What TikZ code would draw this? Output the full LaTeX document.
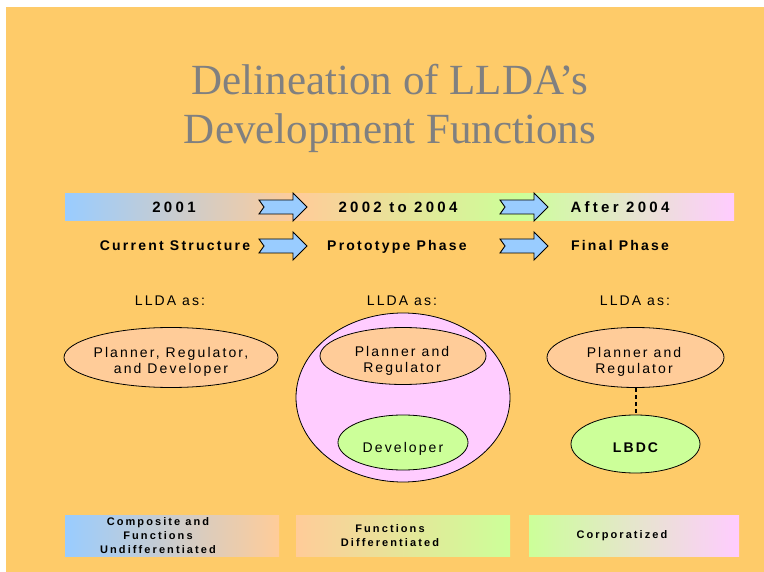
\documentclass[tikz,border=0pt]{standalone}
\usepackage{fontspec}
\setmainfont{Liberation Sans}
\newfontfamily\titlefont{Liberation Serif}
\newfontfamily\headfont[LetterSpace=22]{Liberation Sans}
\newfontfamily\phasefont[LetterSpace=16]{Liberation Sans}
\newfontfamily\rolefont[LetterSpace=15]{Liberation Sans}
\newfontfamily\boxfont[LetterSpace=19]{Liberation Sans}
\usetikzlibrary{shapes.geometric}

\definecolor{bgorange}{HTML}{FECB69}
\definecolor{skyblue}{HTML}{99CCFF}
\definecolor{peach}{HTML}{FFCC99}
\definecolor{palegreen}{HTML}{CCFF99}
\definecolor{palepink}{HTML}{FFCCFF}
\definecolor{titlegray}{HTML}{808080}

\begin{document}
\begin{tikzpicture}[x=1pt, y=-1pt]

\def\barl{65}
\def\barr{734}
\def\bart{194}
\def\barb{221}
\def\rowa{213}
\def\rowb{251}
\def\boxt{515}
\def\boxb{556}

\tikzset{notcharrow/.pic = {\draw[fill=skyblue, line width=0.9pt, line join=miter]
                              (0,-7) -- (34,-7) -- (34,-14) -- (48,0) -- (34,14)
                              -- (34,7) -- (0,7) -- (5,0) -- cycle;}
        }

\tikzset{head/.style     = {font=\headfont\bfseries\fontsize{15}{17}\selectfont, anchor=base},
         phase/.style    = {font=\phasefont\bfseries\fontsize{14}{16}\selectfont, anchor=base},
         role/.style     = {font=\rolefont\fontsize{14}{16}\selectfont, align=center},
         title/.style    = {text=titlegray, font=\titlefont\fontsize{43}{50}\selectfont, anchor=base},
         blob/.style     = {ellipse, draw, line width=0.8pt, inner sep=0pt},
         boxtext/.style  = {font=\boxfont\bfseries\fontsize{11}{13.7}\selectfont, align=center}}

\useasboundingbox (0,0) rectangle (764,572);
\fill[white] (0,0) rectangle (764,572);
\fill[bgorange] (6,7) rectangle (764,572);

% title
\node[title] (title1) at (390,95) {Delineation of LLDA’s};
\node[title] (title2) at (390,144) {Development Functions};

% time bar
\shade[left color=skyblue,   right color=peach]     (\barl,\bart) rectangle (298,\barb);
\shade[left color=peach,     right color=palegreen] (298,\bart) rectangle (520,\barb);
\shade[left color=palegreen, right color=palepink]  (520,\bart) rectangle (\barr,\barb);

\node[head] (y2001) at (174,\rowa) {2001};
\node[head] (y2002) at (398,\rowa) {2002 to 2004};
\node[head] (y2004) at (620,\rowa) {After 2004};

\node[phase] (current) at (175,\rowb) {Current Structure};
\node[phase] (proto)   at (397,\rowb) {Prototype Phase};
\node[phase] (final)   at (620,\rowb) {Final Phase};

\path (259,207) pic{notcharrow};
\path (500,207) pic{notcharrow};
\path (259,246) pic{notcharrow};
\path (500,246) pic{notcharrow};

% LLDA roles
\node[role, anchor=base] (asa) at (170,306) {LLDA as:};
\node[role, anchor=base] (asb) at (402,306) {LLDA as:};
\node[role, anchor=base] (asc) at (635,306) {LLDA as:};

\node[blob, fill=peach, minimum width=214, minimum height=60] (prd) at (171,357.5) {};
\node[role] (prdtext) at (171,361.5) {Planner, Regulator,\\and Developer};

\node[blob, fill=palepink, minimum width=214, minimum height=169] (outer) at (403,397.5) {};
\node[blob, fill=peach, minimum width=166, minimum height=57] (pra) at (403,356) {};
\node[role] (pratext) at (402,360.5) {Planner and\\Regulator};
\node[blob, fill=palegreen, minimum width=130, minimum height=55] (dev) at (403,442.5) {};
\node[role, anchor=base] (devtext) at (403,452) {Developer};

\node[blob, fill=peach, minimum width=177, minimum height=60] (prb) at (635.5,357.5) {};
\node[role] (prbtext) at (634,361.5) {Planner and\\Regulator};
\node[blob, fill=palegreen, minimum width=129, minimum height=58] (lbdc) at (635.5,444) {};
\node[role, anchor=base, font=\rolefont\bfseries\fontsize{14}{16}\selectfont]
  (lbdctext) at (635.5,452) {LBDC};
\draw[line width=2pt, dash pattern=on 4pt off 3pt] (prb) -- (lbdc);

% bottom boxes
\shade[left color=skyblue,   right color=peach]     (65,\boxt) rectangle (279,\boxb);
\shade[left color=peach,     right color=palegreen] (296,\boxt) rectangle (510,\boxb);
\shade[left color=palegreen, right color=palepink]  (529,\boxt) rectangle (739,\boxb);

\node[boxtext] (undiff) at (158,535.5) {Composite and\\Functions\\Undifferentiated};
\node[boxtext] (diff)   at (390,535.5) {Functions\\Differentiated};
\node[boxtext] (corp)   at (622,535.5) {Corporatized};

\end{tikzpicture}
\end{document}
